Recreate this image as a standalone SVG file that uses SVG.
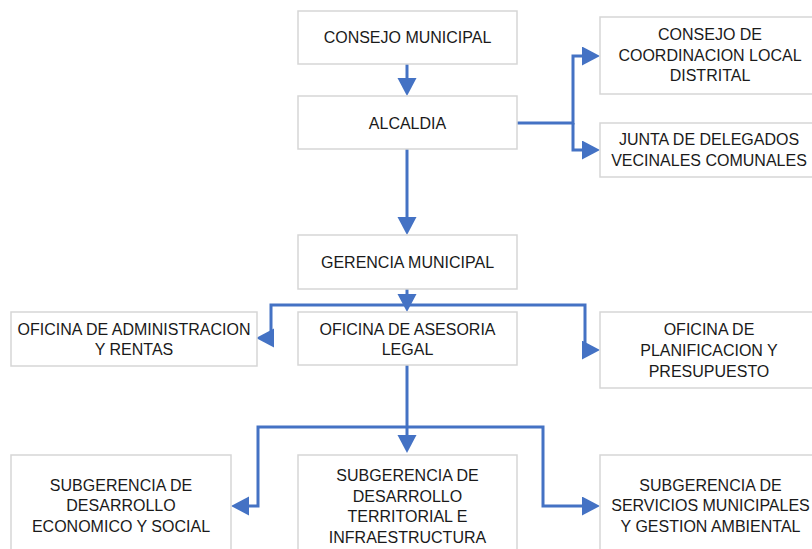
<svg xmlns="http://www.w3.org/2000/svg" width="812" height="549" viewBox="0 0 812 549">
<style>
.box{fill:#ffffff;stroke:#d6d6d6;stroke-width:1.5}
.t{font-family:"Liberation Sans",Arial,sans-serif;font-size:16px;fill:#1a1a1a;text-anchor:middle}
.c{fill:none;stroke:#4472c4;stroke-width:3;stroke-linejoin:miter}
</style>
<defs>
<marker id="ah" markerUnits="userSpaceOnUse" markerWidth="20" markerHeight="20" refX="8" refY="9.5" orient="auto">
<path d="M0,0 L18,9.5 L0,19 z" fill="#4472c4"/>
</marker>
</defs>
<rect width="812" height="549" fill="#ffffff"/>
<g id="connectors">
<path class="c" d="M407,64 V86" marker-end="url(#ah)"/>
<path class="c" d="M517,123 H573 V56 H590" marker-end="url(#ah)"/>
<path class="c" d="M573,123 V150 H590" marker-end="url(#ah)"/>
<path class="c" d="M407,149 V225" marker-end="url(#ah)"/>
<path class="c" d="M407,289 V302" marker-end="url(#ah)"/>
<path class="c" d="M407,305 H271 V338 H266" marker-end="url(#ah)"/>
<path class="c" d="M407,305 H585 V350 H590" marker-end="url(#ah)"/>
<path class="c" d="M407,365 V443" marker-end="url(#ah)"/>
<path class="c" d="M407,427 H258 V506 H241" marker-end="url(#ah)"/>
<path class="c" d="M407,427 H543 V506 H590" marker-end="url(#ah)"/>
</g>
<g id="consejo-municipal">
<rect class="box" x="298" y="11" width="219" height="53"/>
<text class="t" x="407.5" y="42.5">CONSEJO MUNICIPAL</text>
</g>
<g id="alcaldia">
<rect class="box" x="298" y="96" width="219" height="53"/>
<text class="t" x="407.5" y="128.5">ALCALDIA</text>
</g>
<g id="consejo-coordinacion">
<rect class="box" x="600" y="17" width="215" height="77"/>
<text class="t" x="710" y="39.5">CONSEJO DE</text>
<text class="t" x="710" y="60.5">COORDINACION LOCAL</text>
<text class="t" x="710" y="81">DISTRITAL</text>
</g>
<g id="junta-delegados">
<rect class="box" x="600" y="123" width="215" height="54"/>
<text class="t" x="709" y="144.5">JUNTA DE DELEGADOS</text>
<text class="t" x="709" y="165.5">VECINALES COMUNALES</text>
</g>
<g id="gerencia-municipal">
<rect class="box" x="298" y="235" width="219" height="54"/>
<text class="t" x="407.5" y="268">GERENCIA MUNICIPAL</text>
</g>
<g id="oficina-administracion">
<rect class="box" x="11" y="312" width="246" height="54"/>
<text class="t" x="134" y="334.5">OFICINA DE ADMINISTRACION</text>
<text class="t" x="134" y="355">Y RENTAS</text>
</g>
<g id="oficina-asesoria">
<rect class="box" x="298" y="312" width="219" height="53"/>
<text class="t" x="407.5" y="334.5">OFICINA DE ASESORIA</text>
<text class="t" x="407.5" y="355">LEGAL</text>
</g>
<g id="oficina-planificacion">
<rect class="box" x="600" y="312" width="215" height="76"/>
<text class="t" x="709" y="335">OFICINA DE</text>
<text class="t" x="709" y="356">PLANIFICACION Y</text>
<text class="t" x="709" y="376.5">PRESUPUESTO</text>
</g>
<g id="subgerencia-economico">
<rect class="box" x="11" y="455" width="220" height="105"/>
<text class="t" x="121" y="490.5">SUBGERENCIA DE</text>
<text class="t" x="121" y="511">DESARROLLO</text>
<text class="t" x="121" y="531.5">ECONOMICO Y SOCIAL</text>
</g>
<g id="subgerencia-territorial">
<rect class="box" x="298" y="455" width="219" height="105"/>
<text class="t" x="407.5" y="481">SUBGERENCIA DE</text>
<text class="t" x="407.5" y="501.5">DESARROLLO</text>
<text class="t" x="407.5" y="522">TERRITORIAL E</text>
<text class="t" x="407.5" y="543">INFRAESTRUCTURA</text>
</g>
<g id="subgerencia-servicios">
<rect class="box" x="600" y="455" width="215" height="105"/>
<text class="t" x="710.5" y="490.5">SUBGERENCIA DE</text>
<text class="t" x="710.5" y="511">SERVICIOS MUNICIPALES</text>
<text class="t" x="710.5" y="531.5">Y GESTION AMBIENTAL</text>
</g>
</svg>
